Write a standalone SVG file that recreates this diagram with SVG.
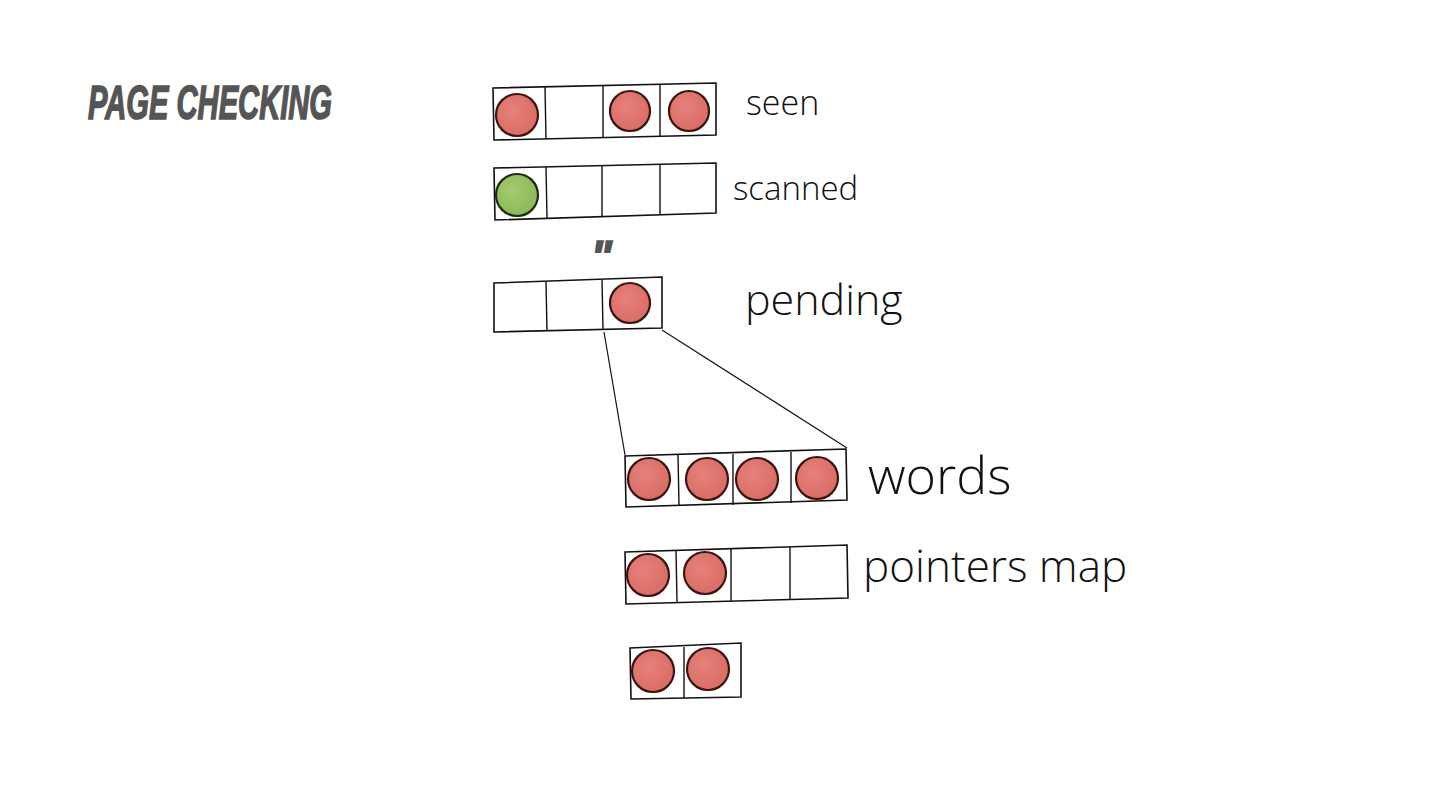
<svg xmlns="http://www.w3.org/2000/svg" width="1440" height="810" viewBox="0 0 1440 810">
<defs>
<radialGradient id="rg" cx="0.4" cy="0.4" r="0.7">
<stop offset="0" stop-color="#e5817a"/>
<stop offset="1" stop-color="#d96a62"/>
</radialGradient>
<radialGradient id="gg" cx="0.4" cy="0.4" r="0.7">
<stop offset="0" stop-color="#a2cc6e"/>
<stop offset="1" stop-color="#88b754"/>
</radialGradient>
</defs>
<style>
.box{fill:#fff;stroke:#111;stroke-width:1.6}
.div{stroke:#111;stroke-width:1.4;fill:none}
.red{fill:url(#rg);stroke:#3a1510;stroke-width:2.2}
.grn{fill:url(#gg);stroke:#1c2a0e;stroke-width:2.2}
.lbl{font-family:"Open Sans","Noto Sans",sans-serif;fill:#111;font-weight:300}
.title{font-family:"Liberation Sans Narrow","Liberation Sans",sans-serif;font-weight:bold;font-style:italic;fill:#555;stroke:#555;stroke-width:1.6}
.conn{stroke:#111;stroke-width:1.2;fill:none}
</style>
<rect width="1440" height="810" fill="#fff"/>
<text class="title" x="88" y="119" font-size="48" textLength="244" lengthAdjust="spacingAndGlyphs">PAGE CHECKING</text>

<g id="connectors">
<path class="conn" d="M604,332 L625,455"/>
<path class="conn" d="M662,330 L847,448"/>
</g>

<g id="seen">
<path class="box" d="M493,88 L716,83 L716,135 L494,140 Z"/>
<path class="div" d="M545,87 L546,139 M603,86 L603,138 M660,85 L660,137"/>
<circle class="red" cx="517" cy="115" r="21"/>
<circle class="red" cx="630" cy="111" r="20"/>
<circle class="red" cx="689" cy="111" r="20"/>
<text class="lbl" x="746" y="115" font-size="34">seen</text>
</g>

<g id="scanned">
<path class="box" d="M494,168 L716,163 L716,213 L495,220 Z"/>
<path class="div" d="M546,167 L547,218 M602,166 L602,217 M660,165 L660,215"/>
<circle class="grn" cx="517" cy="195" r="21"/>
<text class="lbl" x="733" y="200" font-size="33">scanned</text>
</g>

<text x="591" y="272" class="title" font-size="44">"</text>

<g id="pending">
<path class="box" d="M494,283 L662,277 L662,328 L494,332 Z"/>
<path class="div" d="M546,282 L547,331 M602,280 L603,330"/>
<circle class="red" cx="630" cy="303" r="20"/>
<text class="lbl" x="745" y="315" font-size="43">pending</text>
</g>

<g id="words">
<path class="box" d="M625,456 L846,449 L847,500 L626,507 Z"/>
<path class="div" d="M678,455 L679,506 M733,454 L733,505 M791,452 L791,503"/>
<circle class="red" cx="649" cy="479" r="21"/>
<circle class="red" cx="707" cy="479" r="21"/>
<circle class="red" cx="757" cy="479" r="21"/>
<circle class="red" cx="817" cy="478" r="21"/>
<text class="lbl" x="868" y="494" font-size="52">words</text>
</g>

<g id="pointers_map">
<path class="box" d="M625,552 L847,545 L848,598 L626,604 Z"/>
<path class="div" d="M676,550 L677,602 M731,549 L731,601 M790,547 L790,600"/>
<circle class="red" cx="648" cy="575" r="21"/>
<circle class="red" cx="705" cy="573" r="21"/>
<text class="lbl" x="863" y="582" font-size="44">pointers map</text>
</g>

<g id="small">
<path class="box" d="M630,648 L741,643 L741,697 L631,699 Z"/>
<path class="div" d="M684,647 L684,698"/>
<circle class="red" cx="653" cy="671" r="21"/>
<circle class="red" cx="708" cy="669" r="21"/>
</g>
</svg>
